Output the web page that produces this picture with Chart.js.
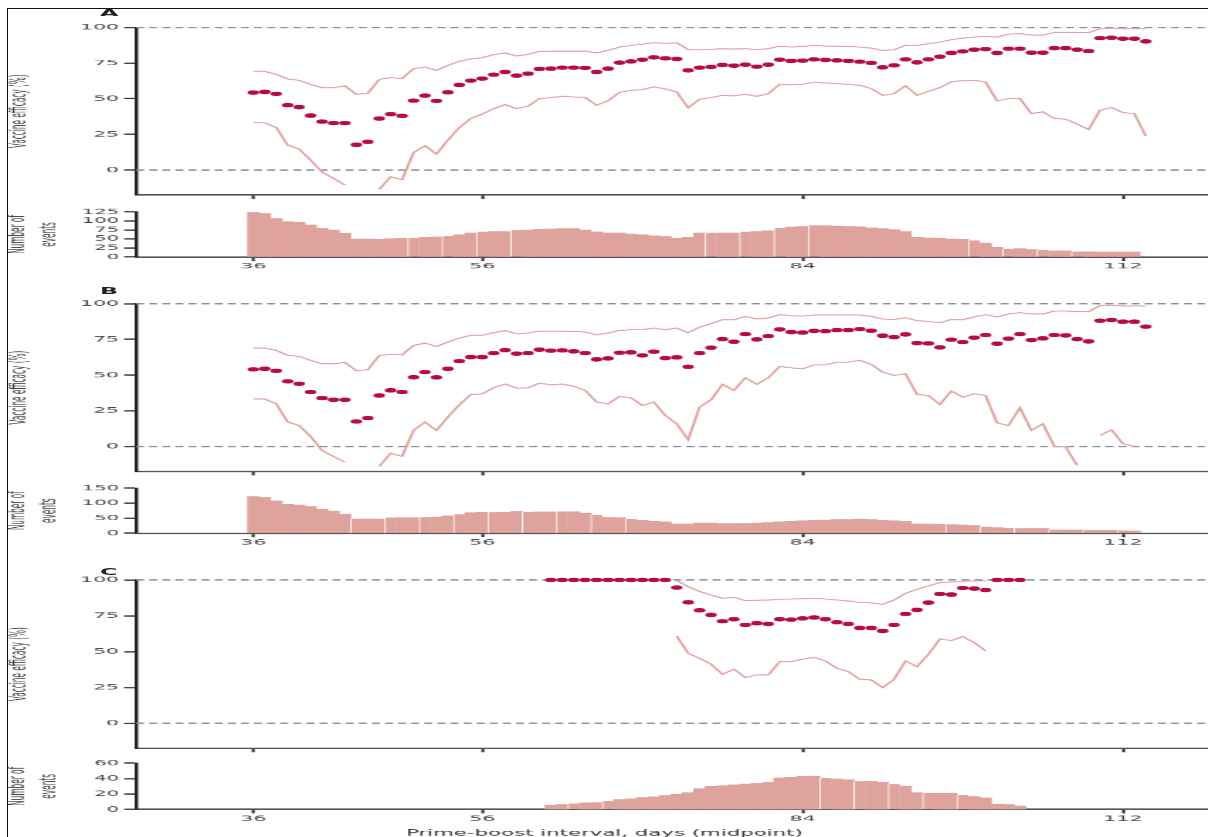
<!DOCTYPE html>
<html lang="en">
<head>
<meta charset="UTF-8">
<title>Vaccine efficacy by prime-boost interval</title>
<script src="https://cdn.jsdelivr.net/npm/chart.js@4.4.1/dist/chart.umd.min.js"></script>
<style>
  html, body { margin: 0; padding: 0; background: #fff; overflow: hidden; width: 1208px; height: 837px; }
  #stage { position: absolute; left: 0; top: 0; transform-origin: 0 0; }
  .plot { position: absolute; left: 0; }
  .panel-letter { position: absolute; font: bold 14px 'DejaVu Sans', sans-serif; color: #222; line-height: 16px; }
  #frame { position: absolute; left: 7px; top: 8px; width: 1300px; height: 900px;
           border-top: 1.5px solid #111; border-left: 1.5px solid #111; pointer-events: none; }
</style>
</head>
<body>
<div id="stage"></div>
<div id="frame"></div>
<script>
// ---- data ----
const daysAB = [36,37,38,39,40,41,42,43,44,45,46,47,48,49,50,51,52,53,54,55,56,57,58,59,60,61,62,63,64,65,
  66,67,68,69,70,71,72,73,74,75,76,77,78,79,80,81,82,83,84,85,86,87,88,89,90,91,92,93,94,95,
  96,97,98,99,100,101,102,103,104,105,106,107,108,109,110,111,112,113,114];
const barDaysAB = [36,37,38,39,40,41,42,43,44,45,46,47,48,49,50,51,52,53,54,55,56,57,58,59,60,61,62,63,64,65,
  66,67,68,69,70,71,72,73,74,75,76,77,78,79,80,81,82,83,84,85,86,87,88,89,90,91,92,93,94,95,
  96,97,98,99,100,101,102,103,104,105,106,107,108,109,110,111,112,113];
const daysC = [62,63,64,65,66,67,68,69,70,71,72,73,74,75,76,77,78,79,80,81,82,83,84,85,86,87,88,89,90,91,
  92,93,94,95,96,97,98,99,100,101,102,103];

// panel A
const effA = [54.3,54.8,53.4,45.5,44.1,38.2,34.0,32.9,32.9,17.7, 19.8,36.1,39.2,38.0,48.7,52.2,48.5,54.5,59.7,62.7,
  64.1,66.9,68.8,66.2,67.6,70.9,71.1,71.8,71.8,71.6, 68.8,71.1,75.3,76.2,77.4,79.0,78.3,77.9,69.9,71.8,
  72.3,73.7,73.2,73.9,72.5,73.9,77.4,76.5,76.7,77.6, 77.2,76.9,76.5,76.0,75.1,72.0,73.4,77.6,75.5,77.6,
  79.5,82.1,83.2,84.4,84.8,82.1,85.1,85.1,82.3,82.3, 85.5,85.5,84.4,83.4,92.5,92.8,92.1,92.1,90.2];
const upperA = [69.2,69.2,67.1,63.9,62.9,60.1,57.8,57.8,59.0,53.1, 53.8,63.6,64.8,64.3,71.1,72.3,69.9,73.4,76.2,77.9,
  78.8,80.9,82.1,80.0,81.1,83.2,83.4,83.4,83.4,83.4, 82.1,83.9,86.2,87.4,88.3,89.3,88.8,89.3,84.4,84.4,
  84.6,85.1,84.8,85.1,84.4,85.1,86.9,86.2,86.7,87.3, 86.9,86.9,86.7,86.2,85.5,83.9,84.4,87.4,87.4,88.6,
  89.7,91.4,92.5,93.2,93.7,93.2,95.3,95.6,94.6,94.6, 96.5,96.5,96.3,96.3,99.1,99.5,99.1,99.1,99.1];
const lowerA = [33.3,33.1,29.8,17.5,14.7,7.0,-1.4,-5.8,-10.5,null, null,-13.5,-4.7,-6.8,12.2,17.0,11.2,21.0,29.8,36.1,
  39.2,43.1,45.9,43.1,44.8,50.1,50.8,51.7,51.3,50.8, 45.5,48.5,54.5,55.9,56.4,58.3,56.9,54.8,43.6,49.7,
  50.8,52.4,52.0,53.1,51.7,53.6,60.1,59.7,60.1,61.5, 61.1,60.6,60.1,59.4,57.1,52.4,53.6,59.2,52.4,55.2,
  57.8,61.8,62.7,62.9,61.8,48.5,50.1,50.1,39.6,40.8, 36.1,35.7,32.2,28.4,42.0,43.8,40.3,39.6,23.8];
const eventsA = [124,121,107,98,96,89,80,75,66,50, 50,49,51,52,53,55,56,58,62,67,
  70,71,71,75,75,77,78,79,79,75, 70,67,67,64,62,59,57,52,55,67,
  67,67,67,70,71,73,80,83,85,88, 87,86,85,84,81,79,76,71,55,53,
  52,50,49,46,39,27,23,23,21,20, 17,17,15,15,14,14,14,14];

// panel B
const effB = [54.0,54.4,53.0,45.6,43.9,38.1,33.9,32.7,32.7,17.5, 19.9,35.7,39.3,38.1,48.5,52.1,48.4,54.4,59.8,62.6,
  62.6,65.4,67.5,65.0,65.4,67.8,67.1,67.3,66.6,65.4, 61.0,61.7,65.7,65.9,63.8,66.4,61.9,62.4,55.8,65.4,
  69.2,75.2,73.4,78.7,75.0,77.3,82.0,80.1,79.8,81.0, 80.8,81.5,81.5,82.2,81.1,77.6,76.6,78.5,72.4,72.2,
  69.4,74.8,73.1,76.2,78.0,72.0,75.5,78.7,74.5,75.7, 78.0,77.8,75.2,73.6,88.1,88.6,87.4,87.4,83.9];
const upperB = [68.9,68.9,67.3,63.8,63.1,60.3,57.9,57.9,58.9,53.0, 53.7,63.8,64.5,64.2,70.8,72.4,70.1,73.1,75.9,77.8,
  77.8,79.7,81.1,79.0,79.4,80.8,80.8,80.8,80.6,80.1, 78.3,79.4,81.3,81.8,81.8,82.9,81.8,82.9,79.7,83.6,
  86.0,88.8,88.8,91.1,89.3,90.0,92.3,91.6,91.4,92.0, 92.1,92.1,92.1,92.1,91.1,89.3,89.0,90.2,88.1,87.6,
  86.7,89.0,88.8,90.7,92.3,90.7,92.8,93.7,92.8,92.8, 94.9,94.9,94.4,94.4,98.8,98.8,98.4,98.4,98.4];
const lowerB = [33.4,33.2,29.9,17.1,14.7,7.0,-2.8,-7.0,-11.0,null, null,-14.0,-4.7,-6.9,11.2,17.1,11.2,20.6,29.2,36.4,
  36.9,41.1,43.7,40.9,41.1,44.4,43.2,43.7,42.1,39.3, 31.1,29.9,35.0,34.1,28.7,31.1,21.7,15.9,4.7,27.6,
  32.7,43.5,39.3,48.1,43.5,48.1,56.1,55.1,54.4,57.1, 57.2,59.1,59.1,60.3,57.5,52.1,49.8,50.9,36.4,35.7,
  29.4,38.8,34.6,36.9,35.7,16.4,14.7,27.1,11.2,15.9, 0.2,-0.5,-13.3,null,7.7,11.7,1.9,0.0,null];
const eventsB = [122,120,108,97,94,89,80,74,63,48, 48,47,52,52,52,54,54,58,63,69,
  70,70,70,73,71,71,71,73,72,67, 61,53,52,47,43,41,38,31,31,34,
  34,33,33,33,34,36,38,41,42,43, 44,46,46,47,46,43,42,39,31,31,
  30,30,28,26,22,19,17,17,16,16, 12,11,11,11,10,10,9,8];

// panel C
const effC = [100,100,100,100,100,100,100,100,100,100, 100,94.7,84.4,78.8,75.6,71.2,72.6,68.6,69.8,69.3,
  72.6,72.3,73.2,73.8,72.6,70.5,69.3,66.5,66.5,64.4, 68.6,76.3,79.1,84.2,90.2,89.8,94.4,94.0,93.0,100,
  100,100];
const upperC = [null,null,null,null,null,null,null,null,null,null, null,99.5,95.3,91.9,89.5,87.2,87.9,85.6,85.8,86.0,
  86.5,86.7,86.9,87.2,86.7,86.0,85.3,84.4,84.0,83.0, 86.0,90.7,93.5,95.8,98.1,98.6,99.1,99.3,99.5,null,
  null,null];
const lowerC = [null,null,null,null,null,null,null,null,null,null, null,60.9,48.8,45.3,41.2,34.2,37.7,31.9,33.7,33.7,
  43.0,43.0,44.7,46.0,43.5,38.4,36.0,30.7,30.2,24.9, 30.7,43.5,39.5,48.1,58.8,57.7,60.5,56.3,50.5,null,
  null,null];
const eventsC = [5.7,6.5,7.8,8.7,9,11.3,13,14,15.7,16.5, 18.3,20,22,27,30,31,32,33,34,35,
  41,42,43,43.5,41,39.6,38.7,36.5,36.5,35.7, 33,30.4,22,21.3,21.3,21.3,18.7,17,15,7,
  6.5,4.8];

// days where a new block of the histogram starts (thin white divider)
const blocksA = [50,53,56,59,76,79,82,85,99,102,105,108];
const blocksB = [45,48,51,54,57,60,63,66,69,97,100,103,106,109,112];
const blocksC = [64,67,86,89,92,95,98];

// ticks and reference levels
const dayTicks = [36, 56, 84, 112];
const effTicks = [0, 25, 50, 75, 100];
const refLevels = [0, 100];
const eventMax = [125, 150, 60];
const eventStep = [25, 50, 20];
const panelLetters = ['A', 'B', 'C'];

// ---- layout ----
// the original figure is stretched sideways and squashed, so draw at a
// "natural" size and scale the whole stage to match
const SX = 1.7, SY = 0.65;
const CANVAS_W = 1288;        // px in the final picture, wider than the window
const PAD_RIGHT = 80;         // so the plot runs to the right edge at 1208
const AXIS_X = 136;           // y axis position
const X_MIN = 25.75, X_MAX = 119.5;
const PAD_TOP = 10;
const DPR = 1.2;              // keeps thin strokes from dropping out when squashed

const DOT = '#b50d3e', CI = '#e0a39e', BAR = '#dfa39e', REF = '#7f939c', TEXT = '#444';
const NARROW = "'Liberation Sans Narrow', 'Arial Narrow', 'DejaVu Sans Condensed', sans-serif";

Chart.defaults.font.family = "'DejaVu Sans', sans-serif";

const stage = document.getElementById('stage');
stage.style.width = (CANVAS_W / SX) + 'px';
stage.style.height = (900 / SY) + 'px';
stage.style.transform = 'scale(' + SX + ',' + SY + ')';

function addCanvas(areaTop, areaBottom, below) {
  const div = document.createElement('div');
  div.className = 'plot';
  div.style.top = (areaTop / SY - PAD_TOP) + 'px';
  div.style.width = (CANVAS_W / SX) + 'px';
  div.style.height = (PAD_TOP + (areaBottom - areaTop) / SY + below) + 'px';
  const c = document.createElement('canvas');
  div.appendChild(c);
  stage.appendChild(div);
  return c;
}

function addLetter(text, cy) {
  const d = document.createElement('div');
  d.className = 'panel-letter';
  d.textContent = text;
  d.style.left = (100 / SX) + 'px';
  d.style.top = (cy / SY - 8) + 'px';
  stage.appendChild(d);
}

const pts = (xs, ys) => xs.map((x, i) => ({ x: x, y: ys[i] }));

function xScale(showLabels, height) {
  return {
    type: 'linear', min: X_MIN, max: X_MAX, offset: false,
    afterBuildTicks: s => { s.ticks = dayTicks.map(v => ({ value: v })); },
    afterFit: s => { s.height = height; },
    ticks: { display: showLabels, color: TEXT, font: { size: 12 }, padding: 1, maxRotation: 0, autoSkip: false,
             callback: v => String(v) },
    grid: { drawOnChartArea: false, offset: false, tickLength: 6, tickWidth: 1.6, tickColor: '#222' },
    border: { color: '#555', width: 2.5 }
  };
}

function baseOptions() {
  return {
    animation: false, responsive: true, maintainAspectRatio: false, devicePixelRatio: DPR,
    layout: { padding: { top: PAD_TOP, right: PAD_RIGHT / SX, left: 0, bottom: 0 } },
    plugins: { legend: { display: false }, tooltip: { enabled: false }, title: { display: false } }
  };
}

function efficacyChart(areaTop, areaBottom, days, est, lo, hi) {
  const canvas = addCanvas(areaTop, areaBottom, 10);
  const datasets = [
    { data: pts(days, est), showLine: false, pointRadius: 3.4, pointBackgroundColor: DOT, pointBorderWidth: 0, clip: false },
    { data: pts(days, hi), borderColor: CI, borderWidth: 1.6, pointRadius: 0, tension: 0, clip: false },
    { data: pts(days, lo), borderColor: CI, borderWidth: 1.6, pointRadius: 0, tension: 0, clip: false }
  ];
  refLevels.forEach(v => datasets.push({
    data: [{ x: X_MIN, y: v }, { x: X_MAX, y: v }],
    borderColor: REF, borderWidth: 2.2, borderDash: [4.7, 3], pointRadius: 0, clip: false
  }));
  const opts = baseOptions();
  opts.scales = {
    x: xScale(false, 10),
    y: {
      min: -17.5, max: 100,
      afterBuildTicks: s => { s.ticks = effTicks.map(v => ({ value: v })); },
      afterFit: s => { s.width = AXIS_X / SX; },
      ticks: { color: TEXT, font: { size: 12 }, padding: 3 },
      grid: { drawOnChartArea: false, tickLength: 7, tickWidth: 2, tickColor: '#333' },
      border: { color: '#222', width: 2 },
      title: { display: true, text: 'Vaccine efficacy (%)', color: TEXT,
               font: { family: NARROW, size: 12.5, lineHeight: 1.2 }, padding: { top: 4, bottom: 0 } }
    }
  };
  return new Chart(canvas, { type: 'line', data: { datasets: datasets }, options: opts });
}

function eventsChart(areaTop, areaBottom, days, counts, blocks, yMax, step, withTitle) {
  const below = withTitle ? 22 + 22 : 22;
  const canvas = addCanvas(areaTop, areaBottom, below);
  const opts = baseOptions();
  if (withTitle) {
    opts.plugins.title = {
      display: true, position: 'bottom', text: 'Prime-boost interval, days (midpoint)',
      color: '#333', font: { size: 12.5, weight: 'normal' }, padding: { top: 7, bottom: 0 }
    };
  }
  opts.scales = {
    x: xScale(true, 22),
    y: {
      min: 0, max: yMax,
      afterFit: s => { s.width = AXIS_X / SX; },
      ticks: { stepSize: step, autoSkip: false, color: TEXT, font: { size: 11.5 }, padding: 3 },
      grid: { drawOnChartArea: false, tickLength: 7, tickWidth: 2, tickColor: '#333' },
      border: { color: '#222', width: 2 },
      title: { display: true, text: ['Number of', 'events'], color: TEXT,
               font: { family: NARROW, size: 12.5, lineHeight: 1.45 }, padding: { top: 2, bottom: 0 } }
    }
  };
  return new Chart(canvas, {
    type: 'bar',
    data: { datasets: [{
      data: pts(days, counts), backgroundColor: BAR, borderColor: '#fff', borderSkipped: false,
      borderWidth: c => (c.raw && blocks.includes(c.raw.x)) ? { left: 0.8, right: 0, top: 0, bottom: 0 } : 0,
      barPercentage: 1, categoryPercentage: 1
    }] },
    options: opts
  });
}

// panel A
efficacyChart(27.0, 195.0, daysAB, effA, lowerA, upperA);
eventsChart(211.7, 256.7, barDaysAB, eventsA, blocksA, eventMax[0], eventStep[0], false);
// panel B
efficacyChart(303.3, 471.0, daysAB, effB, lowerB, upperB);
eventsChart(488.3, 533.3, barDaysAB, eventsB, blocksB, eventMax[1], eventStep[1], false);
// panel C
efficacyChart(580.0, 748.2, daysC, effC, lowerC, upperC);
eventsChart(763.3, 809.3, daysC, eventsC, blocksC, eventMax[2], eventStep[2], true);

addLetter(panelLetters[0], 13);
addLetter(panelLetters[1], 291.5);
addLetter(panelLetters[2], 571.5);
</script>
</body>
</html>
